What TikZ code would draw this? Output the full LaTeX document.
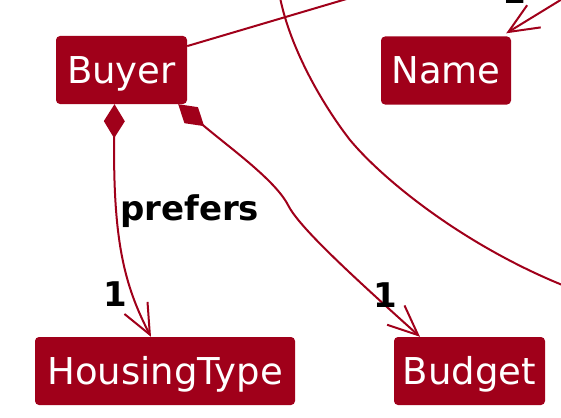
\documentclass[tikz,border=0pt]{standalone}
\usepackage{fontspec}
\setmainfont{DejaVu Sans}
\usetikzlibrary{arrows.meta}
\definecolor{umlred}{HTML}{A0001A}
\tikzset{
  umlbox/.style={fill=umlred, text=white, rounded corners=4pt, inner sep=0pt, minimum height=68pt, text height=27pt, text depth=0pt, font=\fontsize{37}{44}\selectfont},
  umlline/.style={draw=umlred, line width=2pt},
  umlarrow/.style={umlline, -{Straight Barb[length=30pt,width=26pt]}},
  umlcomp/.style={umlline, {Diamond[length=34pt,width=21pt]}-{Straight Barb[length=30pt,width=26pt]}},
  multlabel/.style={font=\fontsize{34}{40}\selectfont\bfseries, inner sep=0pt, anchor=base}
}
\begin{document}
\begin{tikzpicture}[x=1pt, y=-1pt]
  \clip (0,0) rectangle (561,417);
  % classes
  \node[umlbox, minimum width=131pt] (buyer) at (121.5,70) {Buyer};
  \node[umlbox, minimum width=130pt] (name) at (446,70.5) {Name};
  \node[umlbox, minimum width=260pt] (housing) at (165,371) {HousingType};
  \node[umlbox, minimum width=151pt] (budget) at (469.5,371) {Budget};

  % ends that leave the picture
  \coordinate (offA) at (360,-5);
  \coordinate (offB) at (572,-7);
  \coordinate (offC) at (279,-8);
  \coordinate (offD) at (575,290);

  % associations
  \draw[umlcomp] ([xshift=-7pt]buyer.south) .. controls (113,240) and (124,285) .. ([xshift=-14pt]housing.north);
  \draw[umlcomp] ([xshift=-9pt]buyer.south east) .. controls (230,148) and (275,180) .. (288,205)
    .. controls (298,225) and (340,265) .. ([xshift=-49.5pt]budget.north);
  \draw[umlline] (buyer.20) -- (offA);
  \draw[umlline] (offC) .. controls (288,45) and (322,104) .. (350,140)
    .. controls (385,182) and (470,250) .. (offD);
  \draw[umlarrow] (offB) -- ([shift={(-5pt,3pt)}]name.north east);

  % labels
  \node[font=\fontsize{34}{40}\selectfont\bfseries, inner sep=0pt, anchor=base west] (prefers) at (120,220) {prefers};
  \node[multlabel] (multhousing) at (115,306) {1};
  \node[multlabel] (multbudget) at (385.5,307) {1};
  \node[multlabel] (multname) at (514,4) {1};
\end{tikzpicture}
\end{document}
